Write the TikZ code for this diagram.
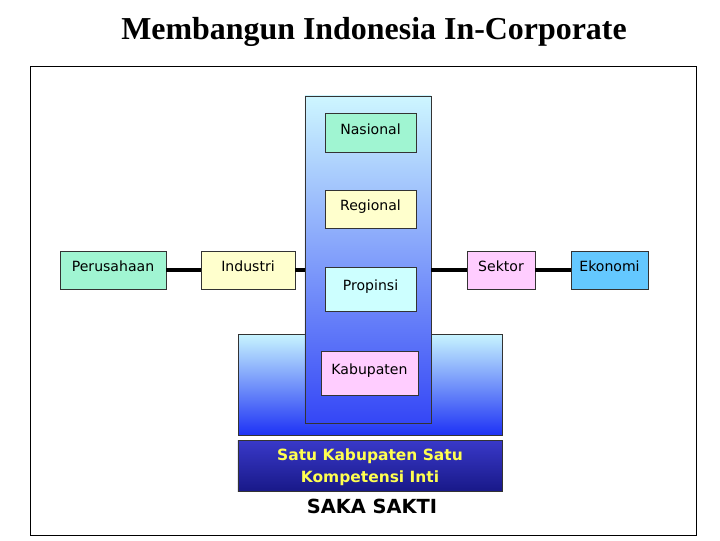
\documentclass[tikz,border=0pt]{standalone}
\usepackage{fontspec}
\setmainfont{DejaVu Sans}
\newfontfamily\titlefont{Liberation Serif}
\usepackage{tikz}
\definecolor{mint}{RGB}{160,245,210}
\definecolor{cream}{RGB}{255,255,205}
\definecolor{pinkish}{RGB}{255,205,255}
\definecolor{icecyan}{RGB}{205,255,255}
\definecolor{skyblue}{RGB}{100,200,255}
\definecolor{palecyan}{RGB}{200,245,255}
\definecolor{deepblue}{RGB}{30,50,245}
\definecolor{barblue}{RGB}{35,35,195}
\definecolor{baryellow}{RGB}{255,255,80}
\tikzstyle{kotak}=[draw=black!80,thin,inner sep=0pt,text depth=1.0ex,font=\fontsize{10}{12}\selectfont]
\tikzstyle{garis}=[line width=2.6pt]

\begin{document}
\begin{tikzpicture}[thick,x=0.025cm,y=-0.025cm]
    \useasboundingbox (0,0) rectangle (720,540);
    \node [font=\titlefont\bfseries\fontsize{22.7}{26}\selectfont] (judul) at (374,32) {Membangun Indonesia In-Corporate};
    \draw [thin] (30,66) rectangle (696,535);
    \draw [thin, draw=black!80, top color=palecyan, bottom color=deepblue] (238,334) rectangle (502,435);
    \node [kotak,top color=palecyan!90!white,bottom color=deepblue!90!white,minimum width=3.15cm,minimum height=8.175cm] (kolom) at (368,259.5) {};
    \node [kotak,fill=mint,minimum width=2.65cm,minimum height=0.95cm] (perusahaan) at (113,270) {Perusahaan};
    \node [kotak,fill=cream,minimum width=2.35cm,minimum height=0.95cm] (industri) at (248,270) {Industri};
    \node [kotak,fill=pinkish,minimum width=1.7cm,minimum height=0.95cm] (sektor) at (501,270) {Sektor};
    \node [kotak,fill=skyblue,minimum width=1.925cm,minimum height=0.95cm] (ekonomi) at (609.5,270) {Ekonomi};
    \node [kotak,fill=mint,minimum width=2.275cm,minimum height=0.975cm] (nasional) at (370.5,132.5) {Nasional};
    \node [kotak,fill=cream,minimum width=2.275cm,minimum height=0.95cm] (regional) at (370.5,209) {Regional};
    \node [kotak,fill=icecyan,minimum width=2.275cm,minimum height=1.1cm] (propinsi) at (370.5,289) {Propinsi};
    \node [kotak,fill=pinkish,minimum width=2.425cm,minimum height=1.1cm] (kabupaten) at (369.5,373) {Kabupaten};
    \draw [garis] (perusahaan) -- (industri);
    \draw [garis] (industri.east) -- (industri.east -| kolom.west);
    \draw [garis] (sektor.west -| kolom.east) -- (sektor.west);
    \draw [garis] (sektor) -- (ekonomi);
    \node [kotak,top color=barblue!90!white,bottom color=barblue!70!black,minimum width=6.6cm,minimum height=1.275cm,text depth=0pt,align=center,text=baryellow,font=\bfseries\fontsize{11}{15.5}\selectfont] (saka) at (370,465.5) {Satu Kabupaten Satu\\Kompetensi Inti};
    \node [font=\bfseries\fontsize{13.8}{16}\selectfont] (sakti) at (372,506) {SAKA SAKTI};
\end{tikzpicture}
\end{document}
